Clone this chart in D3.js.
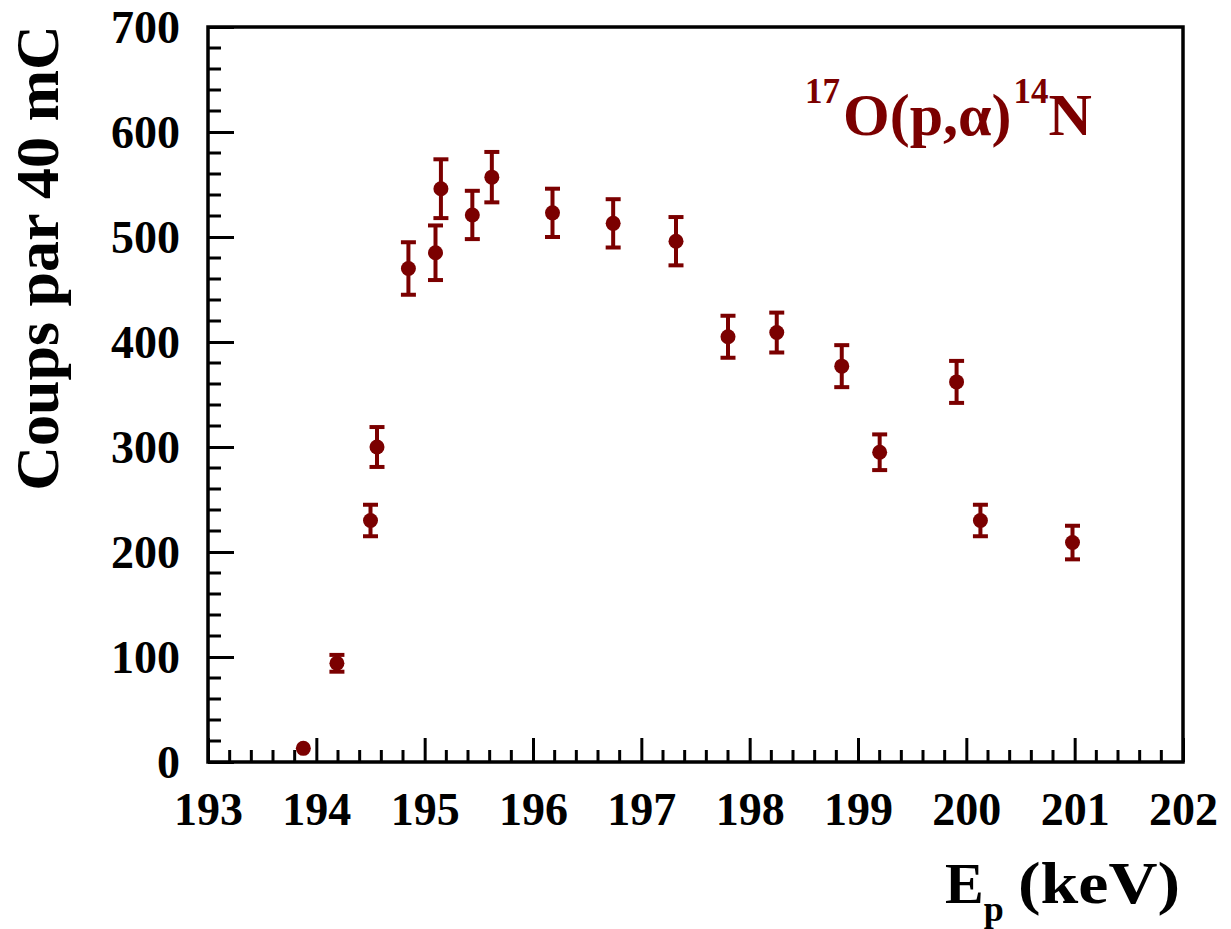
<!DOCTYPE html>
<html>
<head>
<meta charset="utf-8">
<script src="https://cdn.jsdelivr.net/npm/d3@7"></script>
<style>
  body { margin: 0; background: #fff; }
  text { font-family: "Liberation Serif", "Times New Roman", serif; font-weight: bold; }
</style>
</head>
<body>
<div id="chart-area"></div>
<script>

// data
var energy = [193.88, 194.19, 194.50, 194.56, 194.85, 195.10, 195.15, 195.44, 195.62, 196.18,
              196.74, 197.32, 197.80, 198.25, 198.85, 199.20, 199.91, 200.13, 200.98];
var counts = [13, 94, 230, 300, 470, 485, 546, 521, 557, 523,
              513, 496, 405, 409, 377, 295, 362, 230, 209];
var errors = [4, 8, 15, 19, 25, 26, 28, 23, 24, 23,
              23, 23, 20, 19, 20, 17, 20, 15, 16];
var xTicks = [193, 194, 195, 196, 197, 198, 199, 200, 201, 202];
var yTicks = [0, 100, 200, 300, 400, 500, 600, 700];

var color = "#7b0000";

var margin = { left: 208, right: 48, top: 27, bottom: 167 };
var width = 1231 - margin.left - margin.right,
    height = 929 - margin.top - margin.bottom;

var svg = d3.select("#chart-area")
    .append("svg")
        .attr("width", 1231)
        .attr("height", 929);

var g = svg.append("g")
    .attr("transform", "translate(" + margin.left + ", " + margin.top + ")");

// scales
var x = d3.scaleLinear().domain([193, 202]).range([0, width]);
var y = d3.scaleLinear().domain([0, 700]).range([height, 0]);

// minor ticks first
var xMinor = d3.range(193, 202.001, 0.2).filter(function(d) { return Math.abs(d - Math.round(d)) > 0.01; });
var yMinor = d3.range(0, 700.1, 20).filter(function(d) { return d % 100 != 0; });

g.selectAll(".xminor")
    .data(xMinor)
    .enter().append("line")
        .attr("x1", function(d) { return x(d); })
        .attr("x2", function(d) { return x(d); })
        .attr("y1", height)
        .attr("y2", height - 12)
        .attr("stroke", "#000")
        .attr("stroke-width", 3);

g.selectAll(".yminor")
    .data(yMinor)
    .enter().append("line")
        .attr("x1", 0)
        .attr("x2", 13)
        .attr("y1", function(d) { return y(d); })
        .attr("y2", function(d) { return y(d); })
        .attr("stroke", "#000")
        .attr("stroke-width", 3);

// X Axis
var xAxisCall = d3.axisBottom(x)
    .tickValues(xTicks)
    .tickSizeInner(-24)
    .tickSizeOuter(0)
    .tickPadding(30)
    .tickFormat(d3.format("d"));
var xAxis = g.append("g")
    .attr("class", "x axis")
    .attr("transform", "translate(0," + height + ")")
    .call(xAxisCall);

// Y Axis
var yAxisCall = d3.axisLeft(y)
    .tickValues(yTicks)
    .tickSizeInner(-26)
    .tickSizeOuter(0)
    .tickPadding(28);
var yAxis = g.append("g")
    .attr("class", "y axis")
    .call(yAxisCall);

[xAxis, yAxis].forEach(function(a) {
    a.select(".domain").remove();
    a.selectAll("line").attr("stroke", "#000").attr("stroke-width", 3);
    a.selectAll("text")
        .attr("fill", "#000")
        .style("font-size", "46px");
});
xAxis.selectAll("text").attr("dy", "0.71em");
yAxis.selectAll("text").attr("dy", "0.34em");

// frame
g.append("rect")
    .attr("x", 0)
    .attr("y", 0)
    .attr("width", width)
    .attr("height", height)
    .attr("fill", "none")
    .attr("stroke", "#000")
    .attr("stroke-width", 3.5);

// error bars
var pts = energy.map(function(e, i) { return { e: e, c: counts[i], s: errors[i] }; });

var bars = g.selectAll(".err")
    .data(pts)
    .enter().append("g")
        .attr("class", "err");

bars.append("line")
    .attr("x1", function(d) { return x(d.e); })
    .attr("x2", function(d) { return x(d.e); })
    .attr("y1", function(d) { return y(d.c - d.s); })
    .attr("y2", function(d) { return y(d.c + d.s); })
    .attr("stroke", color)
    .attr("stroke-width", 4);

[-1, 1].forEach(function(sgn) {
    bars.append("line")
        .attr("x1", function(d) { return x(d.e) - 7.5; })
        .attr("x2", function(d) { return x(d.e) + 7.5; })
        .attr("y1", function(d) { return y(d.c + sgn * d.s); })
        .attr("y2", function(d) { return y(d.c + sgn * d.s); })
        .attr("stroke", color)
        .attr("stroke-width", 4)
        .attr("display", function(d) { return d.s < 6 ? "none" : null; });
});

// points
g.selectAll("circle")
    .data(pts)
    .enter()
    .append("circle")
        .attr("cx", function(d) { return x(d.e); })
        .attr("cy", function(d) { return y(d.c); })
        .attr("r", 7.5)
        .attr("fill", color);

// reaction label
var lbl = svg.append("text")
    .attr("x", 805)
    .attr("y", 135)
    .attr("fill", color)
    .style("font-size", "60px");
lbl.append("tspan").style("font-size", "35px").attr("dy", -32).text("17");
lbl.append("tspan").attr("dy", 32).attr("dx", 3).text("O(p,α)");
lbl.append("tspan").style("font-size", "35px").attr("dy", -32).attr("dx", 2).text("14");
lbl.append("tspan").attr("dy", 32).text("N");

// X Label
var xl = svg.append("text")
    .attr("x", 945)
    .attr("y", 903)
    .attr("fill", "#000")
    .style("font-size", "58px");
xl.append("tspan").text("E");
xl.append("tspan").style("font-size", "36px").attr("dy", 18).text("p");

svg.append("text")
    .attr("x", 1018)
    .attr("y", 903)
    .attr("fill", "#000")
    .attr("textLength", 162)
    .attr("lengthAdjust", "spacingAndGlyphs")
    .style("font-size", "60px")
    .text("(keV)");

// Y Label
svg.append("text")
    .attr("transform", "translate(58, 258) rotate(-90)")
    .attr("text-anchor", "middle")
    .attr("fill", "#000")
    .style("font-size", "62px")
    .text("Coups par 40 mC");

</script>
</body>
</html>
